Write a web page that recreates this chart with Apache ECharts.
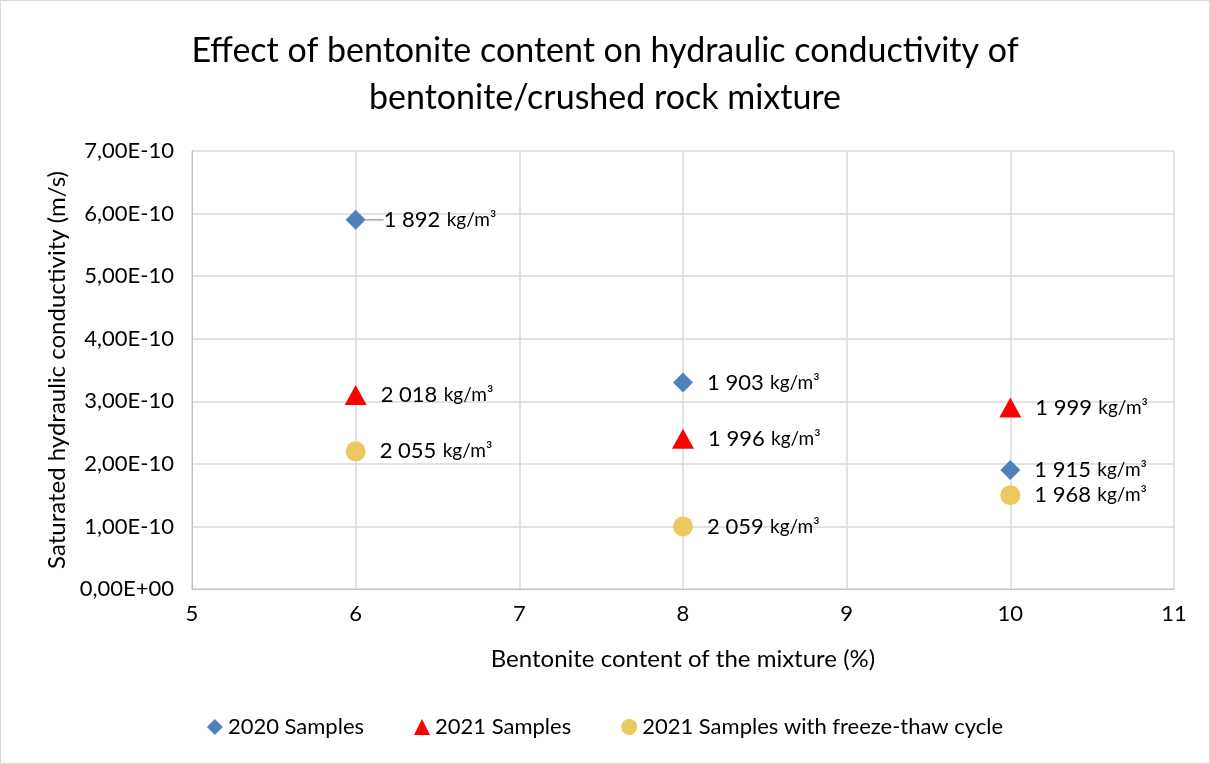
<!DOCTYPE html>
<html><head><meta charset="utf-8">
<script src="https://cdn.jsdelivr.net/npm/echarts@6/dist/echarts.min.js"></script>
<style>html,body{margin:0;padding:0;background:#fff}#c{width:1210px;height:764px;box-sizing:border-box;border:1px solid #d9d9d9}</style>
</head><body><div id="c"></div>
<script>
var seriesNames = ['2020 Samples', '2021 Samples', '2021 Samples with freeze-thaw cycle'];
var xValues = [6, 8, 10];
var s2020 = [5.9e-10, 3.3e-10, 1.9e-10];
var s2021 = [3.1e-10, 2.4e-10, 2.9e-10];
var sFreeze = [2.2e-10, 1.0e-10, 1.5e-10];
var d2020 = ['1 892', '1 903', '1 915'];
var d2021 = ['2 018', '1 996', '1 999'];
var dFreeze = ['2 055', '2 059', '1 968'];
var colors = ['#4f81bd', '#ff0000', '#ebc95e'];
var symbols = ['diamond', 'triangle', 'circle'];
var font = 'Lato, "Open Sans", sans-serif';

function fmtY(v) {
  if (v === 0) return '0,00E+00';
  var e = Math.floor(Math.log10(Math.abs(v)) + 1e-9);
  var m = v / Math.pow(10, e);
  var es = e < 0 ? '-' + String(-e).padStart(2, '0') : '+' + String(e).padStart(2, '0');
  return m.toFixed(2).replace('.', ',') + 'E' + es;
}
function mk(vals, dens, lead) {
  return xValues.map(function (x, i) {
    var d = { value: [x, vals[i]], dens: dens[i] };
    if (lead && i === 0) d.labelLine = { show: true, lineStyle: { color: '#a6a6a6', width: 1.5 } };
    return d;
  });
}
var datas = [mk(s2020, d2020, true), mk(s2021, d2021), mk(sFreeze, dFreeze)];

var chart = echarts.init(document.getElementById('c'));
chart.setOption({
  animation: false,
  title: {
    text: 'Effect of bentonite content on hydraulic conductivity of\nbentonite/crushed rock mixture',
    left: 'center', top: 22,
    textStyle: { fontFamily: font, fontSize: 34, fontWeight: 'normal', color: '#000', lineHeight: 47 }
  },
  legend: {
    bottom: 20, left: 'center', itemWidth: 16, itemHeight: 16, itemGap: 50,
    textStyle: { fontFamily: font, fontSize: 22, color: '#000' },
    data: seriesNames.map(function (n, i) { return { name: n, icon: symbols[i] }; })
  },
  grid: { left: 191, right: 35, top: 150, bottom: 174 },
  xAxis: {
    type: 'value', min: 5, max: 11, interval: 1,
    name: 'Bentonite content of the mixture (%)', nameLocation: 'middle', nameGap: 58,
    nameTextStyle: { fontFamily: font, fontSize: 24, color: '#000' },
    axisLine: { lineStyle: { color: '#bfbfbf' } },
    axisTick: { show: false },
    axisLabel: { fontFamily: font, fontSize: 22, color: '#000', margin: 14 },
    splitLine: { show: true, lineStyle: { color: '#d9d9d9', width: 1.5 } }
  },
  yAxis: {
    type: 'value', min: 0, max: 7e-10, interval: 1e-10,
    name: 'Saturated hydraulic conductivity (m/s)', nameLocation: 'middle', nameGap: 121,
    nameTextStyle: { fontFamily: font, fontSize: 24, color: '#000' },
    axisLine: { show: true, lineStyle: { color: '#bfbfbf' } },
    axisTick: { show: false },
    axisLabel: { fontFamily: font, fontSize: 22, color: '#000', margin: 18, formatter: fmtY },
    splitLine: { show: true, lineStyle: { color: '#d9d9d9', width: 1.5 } }
  },
  series: seriesNames.map(function (n, i) {
    return {
      name: n, type: 'scatter', symbol: symbols[i],
      symbolSize: i === 1 ? [22, 20] : 20,
      itemStyle: { color: colors[i], opacity: 1 },
      data: datas[i],
      labelLine: { show: false },
      labelLayout: i === 0 ? function (p) { return p.dataIndex === 0 ? { dx: 4 } : {}; } : null,
      label: {
        show: true, position: 'right', distance: 14,
        formatter: function (p) { return '{a|' + p.data.dens + '} {b|kg/m³}'; },
        rich: {
          a: { fontFamily: font, fontSize: 22, color: '#000' },
          b: { fontFamily: font, fontSize: 19, color: '#000', padding: [0, 0, 0, 3] }
        }
      }
    };
  })
});
</script></body></html>
